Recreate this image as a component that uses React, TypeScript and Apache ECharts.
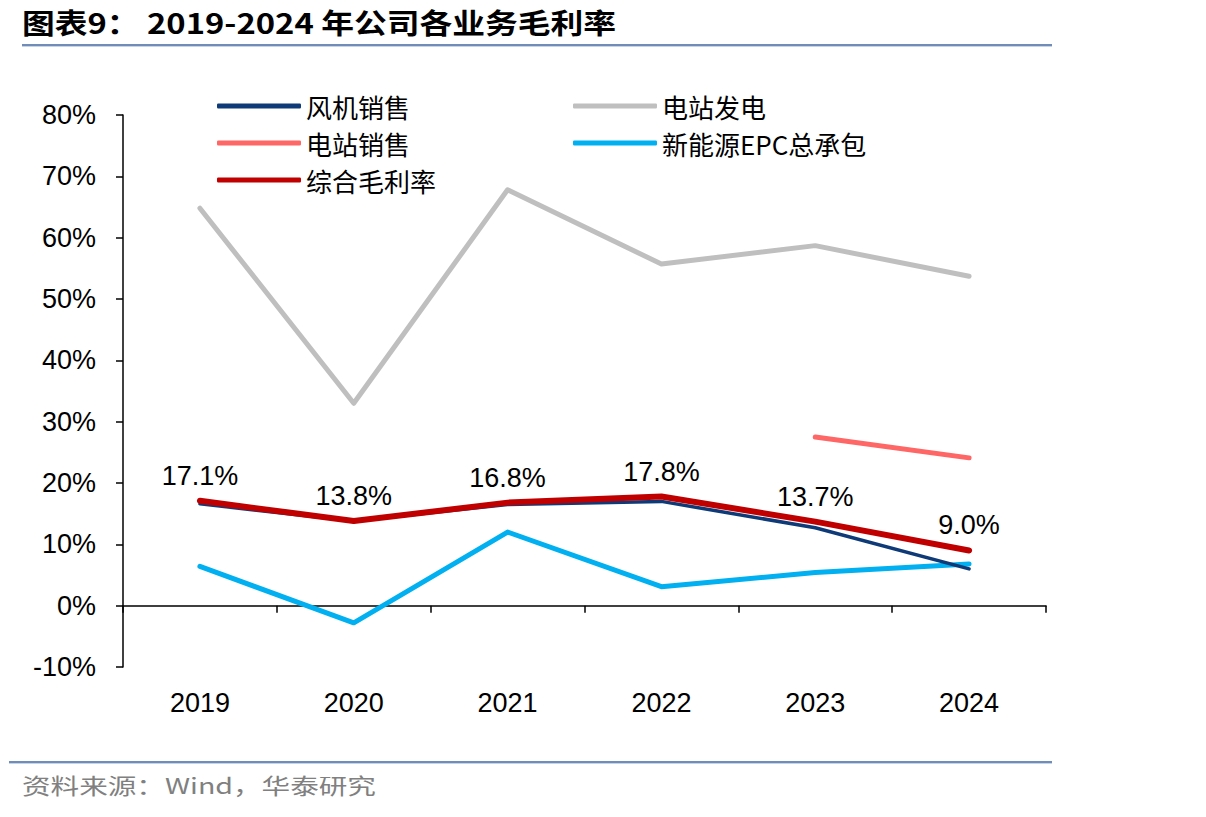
import React, { useEffect, useRef } from "react";
import * as echarts from "echarts";

const years = ["2019", "2020", "2021", "2022", "2023", "2024"];
const windSales = [16.6, 13.8, 16.5, 17.0, 12.7, 6.0];
const stationPower = [64.8, 33.0, 67.8, 55.7, 58.7, 53.7];
const stationSales = [null, null, null, null, 27.5, 24.1];
const epc = [6.4, -2.8, 12.0, 3.1, 5.4, 6.8];
const overall = [17.1, 13.8, 16.8, 17.8, 13.7, 9.0];

const NUM_FONT = "'Liberation Sans', Arial, 'Noto Sans CJK SC', sans-serif";
const CJK_FONT = "'Noto Sans CJK SC', 'Liberation Sans', sans-serif";

export default function App() {
  const ref = useRef<HTMLDivElement>(null);
  useEffect(() => {
    const chart = echarts.init(ref.current!, null, { renderer: "svg" });
    const lineSeries = (name: string, data: any[], color: string, width: number, z: number) => ({
      name,
      type: "line",
      data,
      symbol: "none",
      z,
      lineStyle: { color, width, cap: "round", join: "round" },
      itemStyle: { color },
    });
    const legendCommon = {
      top: 93,
      padding: 0,
      orient: "vertical",
      icon: "roundRect",
      itemWidth: 84,
      itemHeight: 5,
      itemGap: 11,
      textStyle: {
        fontSize: 26,
        lineHeight: 26,
        color: "#000",
        fontFamily: CJK_FONT,
        padding: [0, 0, 0, 0],
      },
    };
    chart.setOption({
      animation: false,
      backgroundColor: "#ffffff",
      grid: { left: 123, right: 160, top: 115, bottom: 150 },
      legend: [
        { ...legendCommon, left: 217, data: ["风机销售", "电站销售", "综合毛利率"] },
        { ...legendCommon, left: 573, data: ["电站发电", "新能源EPC总承包"] },
      ],
      xAxis: {
        type: "category",
        data: years,
        boundaryGap: true,
        axisLine: { onZero: true, lineStyle: { color: "#000", width: 1.5 } },
        axisTick: { show: true, length: 7, lineStyle: { color: "#000", width: 1.5 } },
        axisLabel: { margin: 22, fontSize: 27, color: "#000", fontFamily: NUM_FONT },
      },
      yAxis: {
        type: "value",
        min: -10,
        max: 80,
        interval: 10,
        splitLine: { show: false },
        axisLine: { show: true, lineStyle: { color: "#000", width: 1.5 } },
        axisTick: { show: true, length: 7, lineStyle: { color: "#000", width: 1.5 } },
        axisLabel: {
          fontSize: 27,
          color: "#000",
          margin: 27,
          fontFamily: NUM_FONT,
          formatter: (v: number) => `${v}%`,
        },
      },
      series: [
        lineSeries("风机销售", windSales, "#0e3a78", 3.5, 3),
        lineSeries("电站发电", stationPower, "#bfbfbf", 5, 2),
        lineSeries("电站销售", stationSales, "#ff6666", 5, 2),
        lineSeries("新能源EPC总承包", epc, "#00b0f0", 5, 2),
        {
          ...lineSeries("综合毛利率", overall, "#c00000", 6, 4),
          symbol: "circle",
          symbolSize: 5,
          showSymbol: true,
          label: {
            show: true,
            position: "top",
            distance: 9,
            fontSize: 27,
            color: "#000",
            fontFamily: NUM_FONT,
            formatter: (p: any) => `${Number(p.value).toFixed(1)}%`,
          },
        },
      ],
      graphic: [
        {
          type: "text",
          x: 22,
          y: 8,
          scaleX: 1.17,
          style: {
            text: "图表9： 2019-2024 年公司各业务毛利率",
            fontSize: 28,
            fontWeight: "bold",
            fill: "#000",
            fontFamily: CJK_FONT,
          },
        },
        {
          type: "rect",
          shape: { x: 22, y: 44, width: 1030, height: 2 },
          style: { fill: "#6f8db8" },
        },
        {
          type: "rect",
          shape: { x: 22, y: 46, width: 1030, height: 1 },
          style: { fill: "#c7d4e6" },
        },
        {
          type: "rect",
          shape: { x: 9, y: 761, width: 1043, height: 2 },
          style: { fill: "#6f8db8" },
        },
        {
          type: "rect",
          shape: { x: 9, y: 763, width: 1043, height: 1 },
          style: { fill: "#c7d4e6" },
        },
        {
          type: "text",
          x: 22,
          y: 773,
          scaleX: 1.3,
          style: {
            text: "资料来源：Wind，华泰研究",
            fontSize: 22,
            fill: "#808080",
            fontFamily: CJK_FONT,
          },
        },
      ],
    });
    return () => chart.dispose();
  }, []);
  return (
    <div
      ref={ref}
      style={{ position: "fixed", left: 0, top: 0, width: 1206, height: 817, background: "#fff" }}
    />
  );
}
